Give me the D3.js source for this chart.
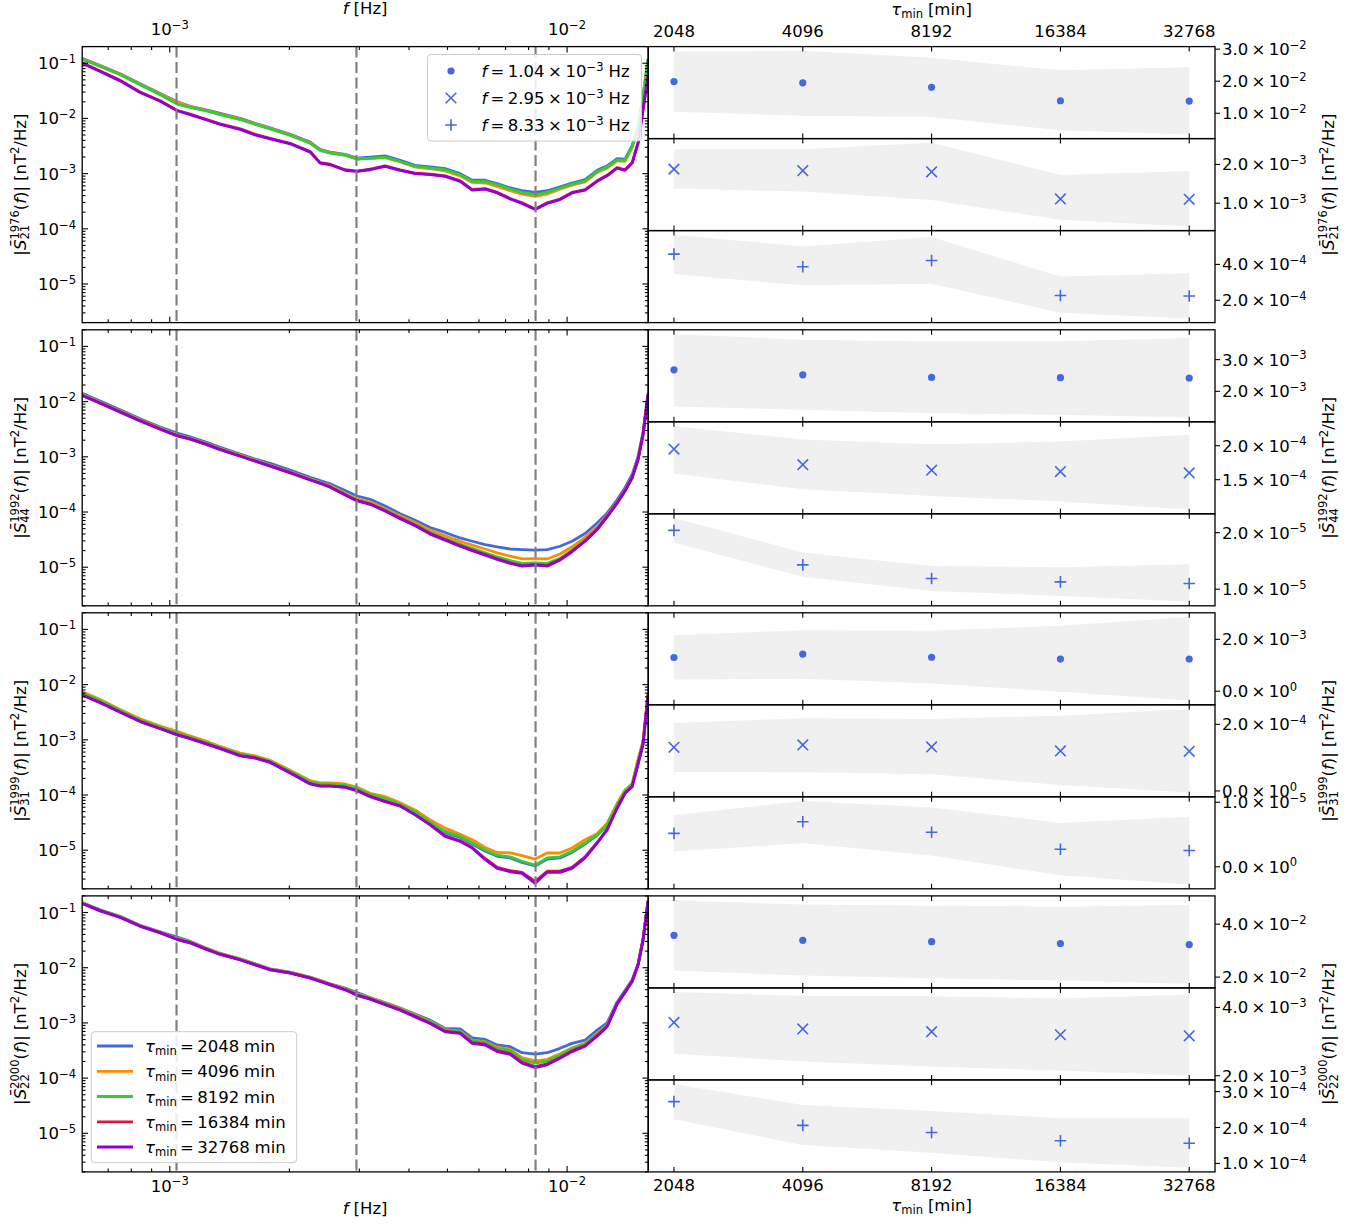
<!DOCTYPE html>
<html><head><meta charset="utf-8">
<script src="https://cdn.jsdelivr.net/npm/d3@7"></script>
<style>
body{margin:0;background:#fff;}
svg text{font-family:"DejaVu Sans",sans-serif;fill:#000;}
</style></head><body>
<svg id="chart" width="1357" height="1224"></svg>
<script>
// ---------------- DATA ----------------
const freqs = [6.02e-4,6.68e-4,7.50e-4,8.42e-4,9.46e-4,1.044e-3,1.125e-3,1.228e-3,1.339e-3,1.504e-3,1.640e-3,1.789e-3,2.009e-3,2.256e-3,2.390e-3,2.533e-3,2.763e-3,2.96e-3,3.194e-3,3.483e-3,3.80e-3,4.145e-3,4.522e-3,4.932e-3,5.38e-3,5.77e-3,6.22e-3,6.67e-3,7.19e-3,7.70e-3,8.31e-3,8.91e-3,9.60e-3,1.029e-2,1.110e-2,1.190e-2,1.261e-2,1.336e-2,1.399e-2,1.458e-2,1.509e-2,1.553e-2,1.599e-2];
const fMarks = [1.04e-3, 2.95e-3, 8.33e-3];
const fMarkLabels = ["1.04", "2.95", "8.33"];
const taus = [2048, 4096, 8192, 16384, 32768];
const tauLabels = ["2048", "4096", "8192", "16384", "32768"];
const seriesColors = ["#4169e1", "#ff8c00", "#32cd32", "#dc143c", "#9400d3"];
const markerColor = "#4169e1";
const compSup = ["1976", "1992", "1999", "2000"];
const compSub = ["21", "44", "31", "22"];
const yMajor = [1e-5, 1e-4, 1e-3, 1e-2, 1e-1];
const xMajor = [1e-3, 1e-2];

// log10 |S| [nT^2/Hz], per tau_min
const lg1976_2048 = [-0.91,-1.04,-1.19,-1.37,-1.55,-1.70,-1.78,-1.84,-1.91,-2.00,-2.09,-2.17,-2.29,-2.43,-2.56,-2.61,-2.65,-2.72,-2.70,-2.68,-2.76,-2.85,-2.88,-2.91,-3.00,-3.12,-3.12,-3.18,-3.26,-3.31,-3.34,-3.31,-3.24,-3.17,-3.11,-2.94,-2.86,-2.73,-2.74,-2.49,-2.15,-1.58,-0.92];
const lg1976_4096 = [-0.92,-1.05,-1.20,-1.38,-1.56,-1.71,-1.79,-1.85,-1.92,-2.01,-2.10,-2.18,-2.30,-2.44,-2.57,-2.62,-2.66,-2.73,-2.73,-2.71,-2.79,-2.88,-2.91,-2.95,-3.04,-3.16,-3.17,-3.23,-3.31,-3.37,-3.41,-3.37,-3.28,-3.21,-3.15,-2.98,-2.90,-2.77,-2.78,-2.53,-2.19,-1.62,-0.95];
const lg1976_8192 = [-0.93,-1.06,-1.21,-1.39,-1.57,-1.74,-1.80,-1.86,-1.93,-2.02,-2.11,-2.19,-2.31,-2.45,-2.58,-2.63,-2.67,-2.74,-2.72,-2.70,-2.78,-2.87,-2.90,-2.93,-3.02,-3.14,-3.14,-3.20,-3.28,-3.34,-3.38,-3.34,-3.26,-3.19,-3.13,-2.96,-2.88,-2.75,-2.76,-2.51,-2.17,-1.60,-0.94];
const lg1976_16384 = [-0.99,-1.14,-1.31,-1.52,-1.68,-1.857,-1.92,-2.01,-2.10,-2.19,-2.29,-2.36,-2.45,-2.60,-2.80,-2.83,-2.93,-2.955,-2.92,-2.86,-2.93,-2.99,-3.01,-3.04,-3.13,-3.29,-3.27,-3.34,-3.45,-3.53,-3.64,-3.53,-3.46,-3.34,-3.29,-3.13,-3.03,-2.89,-2.93,-2.80,-2.44,-1.83,-1.23];
const lg1976_32768 = [-1.00,-1.15,-1.32,-1.53,-1.69,-1.86,-1.93,-2.02,-2.11,-2.20,-2.30,-2.37,-2.46,-2.61,-2.81,-2.84,-2.94,-2.96,-2.93,-2.87,-2.94,-3.00,-3.02,-3.05,-3.14,-3.30,-3.28,-3.35,-3.46,-3.54,-3.65,-3.54,-3.47,-3.35,-3.30,-3.14,-3.04,-2.90,-2.94,-2.81,-2.45,-1.84,-1.24];

const lg1992_2048 = [-1.85,-1.99,-2.15,-2.31,-2.46,-2.57,-2.64,-2.73,-2.83,-2.95,-3.04,-3.12,-3.24,-3.37,-3.43,-3.49,-3.61,-3.71,-3.77,-3.89,-4.03,-4.15,-4.28,-4.37,-4.47,-4.53,-4.59,-4.63,-4.67,-4.68,-4.69,-4.68,-4.62,-4.53,-4.39,-4.20,-4.02,-3.78,-3.56,-3.32,-2.99,-2.55,-1.84];
const lg1992_4096 = [-1.87,-2.01,-2.17,-2.33,-2.48,-2.60,-2.66,-2.75,-2.85,-2.97,-3.06,-3.15,-3.27,-3.40,-3.46,-3.52,-3.66,-3.765,-3.82,-3.94,-4.07,-4.19,-4.33,-4.43,-4.53,-4.60,-4.67,-4.74,-4.80,-4.85,-4.845,-4.85,-4.76,-4.63,-4.46,-4.27,-4.06,-3.82,-3.60,-3.36,-3.03,-2.58,-1.87];
const lg1992_8192 = [-1.88,-2.02,-2.18,-2.34,-2.49,-2.61,-2.67,-2.76,-2.86,-2.98,-3.07,-3.16,-3.28,-3.41,-3.47,-3.54,-3.68,-3.785,-3.85,-3.96,-4.10,-4.22,-4.37,-4.48,-4.58,-4.66,-4.74,-4.81,-4.88,-4.93,-4.92,-4.93,-4.84,-4.69,-4.51,-4.30,-4.08,-3.83,-3.61,-3.37,-3.04,-2.59,-1.87];
const lg1992_16384 = [-1.885,-2.025,-2.185,-2.345,-2.495,-2.614,-2.675,-2.765,-2.865,-2.985,-3.075,-3.165,-3.285,-3.415,-3.475,-3.545,-3.685,-3.79,-3.855,-3.975,-4.11,-4.24,-4.39,-4.50,-4.61,-4.69,-4.77,-4.85,-4.92,-4.97,-4.95,-4.97,-4.86,-4.71,-4.52,-4.31,-4.08,-3.835,-3.615,-3.375,-3.045,-2.595,-1.875];
const lg1992_32768 = [-1.89,-2.03,-2.19,-2.35,-2.50,-2.62,-2.68,-2.77,-2.87,-2.99,-3.08,-3.17,-3.29,-3.42,-3.48,-3.55,-3.69,-3.80,-3.86,-3.98,-4.12,-4.25,-4.40,-4.51,-4.62,-4.70,-4.78,-4.86,-4.93,-4.98,-4.96,-4.98,-4.87,-4.72,-4.53,-4.32,-4.09,-3.84,-3.62,-3.38,-3.05,-2.60,-1.88];

const lg1999_2048 = [-2.155,-2.295,-2.475,-2.645,-2.775,-2.886,-2.955,-3.045,-3.145,-3.265,-3.315,-3.395,-3.575,-3.765,-3.805,-3.805,-3.825,-3.883,-3.995,-4.07,-4.18,-4.31,-4.50,-4.68,-4.77,-4.89,-5.02,-5.11,-5.14,-5.22,-5.286,-5.16,-5.14,-5.04,-4.89,-4.73,-4.55,-4.19,-3.935,-3.815,-3.385,-3.045,-2.175];
const lg1999_4096 = [-2.13,-2.27,-2.45,-2.62,-2.75,-2.845,-2.93,-3.02,-3.12,-3.24,-3.29,-3.37,-3.55,-3.74,-3.78,-3.78,-3.80,-3.86,-3.97,-4.03,-4.14,-4.27,-4.45,-4.60,-4.71,-4.81,-4.95,-5.04,-5.05,-5.10,-5.16,-5.05,-5.05,-4.96,-4.81,-4.70,-4.51,-4.15,-3.91,-3.79,-3.35,-3.02,-2.15];
const lg1999_8192 = [-2.15,-2.29,-2.47,-2.64,-2.77,-2.88,-2.95,-3.04,-3.14,-3.26,-3.31,-3.39,-3.57,-3.76,-3.80,-3.80,-3.82,-3.88,-3.99,-4.06,-4.17,-4.30,-4.49,-4.66,-4.75,-4.87,-5.00,-5.09,-5.12,-5.20,-5.27,-5.14,-5.12,-5.02,-4.87,-4.72,-4.54,-4.18,-3.93,-3.81,-3.38,-3.04,-2.17];
const lg1999_16384 = [-2.185,-2.325,-2.495,-2.665,-2.795,-2.905,-2.975,-3.065,-3.155,-3.285,-3.325,-3.405,-3.595,-3.795,-3.835,-3.835,-3.855,-3.92,-4.025,-4.115,-4.195,-4.355,-4.535,-4.74,-4.83,-4.95,-5.15,-5.31,-5.37,-5.40,-5.565,-5.38,-5.38,-5.31,-5.12,-4.86,-4.62,-4.235,-3.965,-3.845,-3.435,-3.075,-2.195];
const lg1999_32768 = [-2.19,-2.33,-2.50,-2.67,-2.80,-2.91,-2.98,-3.07,-3.16,-3.29,-3.33,-3.41,-3.60,-3.80,-3.84,-3.84,-3.86,-3.92,-4.03,-4.12,-4.20,-4.36,-4.54,-4.75,-4.84,-4.96,-5.17,-5.33,-5.39,-5.42,-5.60,-5.40,-5.40,-5.33,-5.14,-4.87,-4.63,-4.24,-3.97,-3.85,-3.44,-3.08,-2.20];

const lg2000_2048 = [-0.82,-0.95,-1.07,-1.23,-1.35,-1.446,-1.52,-1.64,-1.74,-1.84,-1.93,-2.02,-2.08,-2.17,-2.23,-2.29,-2.37,-2.449,-2.54,-2.63,-2.73,-2.84,-2.95,-3.10,-3.11,-3.27,-3.30,-3.40,-3.43,-3.54,-3.565,-3.54,-3.46,-3.37,-3.31,-3.13,-3.00,-2.62,-2.41,-2.22,-1.93,-1.48,-0.78];
const lg2000_4096 = [-0.83,-0.96,-1.08,-1.24,-1.36,-1.47,-1.535,-1.645,-1.745,-1.845,-1.935,-2.025,-2.085,-2.175,-2.235,-2.295,-2.38,-2.472,-2.545,-2.64,-2.74,-2.855,-2.97,-3.12,-3.15,-3.31,-3.34,-3.44,-3.48,-3.63,-3.686,-3.66,-3.56,-3.45,-3.37,-3.19,-3.04,-2.645,-2.435,-2.235,-1.935,-1.485,-0.785];
const lg2000_8192 = [-0.83,-0.96,-1.08,-1.24,-1.36,-1.476,-1.54,-1.65,-1.75,-1.85,-1.94,-2.03,-2.09,-2.18,-2.24,-2.30,-2.39,-2.483,-2.555,-2.65,-2.75,-2.865,-2.98,-3.13,-3.16,-3.32,-3.35,-3.46,-3.50,-3.66,-3.73,-3.69,-3.58,-3.47,-3.38,-3.20,-3.05,-2.65,-2.44,-2.24,-1.94,-1.49,-0.79];
const lg2000_16384 = [-0.835,-0.965,-1.085,-1.245,-1.365,-1.485,-1.545,-1.655,-1.755,-1.855,-1.945,-2.035,-2.095,-2.185,-2.245,-2.305,-2.395,-2.495,-2.565,-2.665,-2.76,-2.88,-3.00,-3.15,-3.18,-3.355,-3.385,-3.50,-3.55,-3.71,-3.79,-3.74,-3.625,-3.505,-3.41,-3.23,-3.06,-2.655,-2.445,-2.245,-1.945,-1.495,-0.795];
const lg2000_32768 = [-0.84,-0.97,-1.09,-1.25,-1.37,-1.49,-1.55,-1.66,-1.76,-1.86,-1.95,-2.04,-2.10,-2.19,-2.25,-2.31,-2.40,-2.50,-2.57,-2.67,-2.77,-2.89,-3.01,-3.16,-3.19,-3.37,-3.40,-3.52,-3.57,-3.73,-3.81,-3.76,-3.64,-3.52,-3.42,-3.24,-3.07,-2.66,-2.45,-2.25,-1.95,-1.50,-0.80];

// right panels: value at the marked frequency vs tau_min (mean, lower, upper band)
const m1976_f1 = [0.0199,0.0195,0.0181,0.0139,0.0138];
const lo1976_f1 = [0.0105,0.0092,0.0088,0.0047,0.0034];
const hi1976_f1 = [0.0293,0.0295,0.0273,0.0234,0.0244];
const m1976_f2 = [1.88e-3,1.84e-3,1.81e-3,1.11e-3,1.10e-3];
const lo1976_f2 = [1.38e-3,1.30e-3,1.08e-3,0.57e-3,0.40e-3];
const hi1976_f2 = [2.39e-3,2.39e-3,2.56e-3,1.73e-3,1.83e-3];
const m1976_f3 = [4.57e-4,3.87e-4,4.22e-4,2.27e-4,2.24e-4];
const lo1976_f3 = [3.47e-4,2.82e-4,2.92e-4,1.30e-4,0.99e-4];
const hi1976_f3 = [5.65e-4,5.00e-4,5.52e-4,3.32e-4,3.50e-4];

const m1992_f1 = [2.68e-3,2.52e-3,2.44e-3,2.43e-3,2.42e-3];
const lo1992_f1 = [1.52e-3,1.42e-3,1.31e-3,1.26e-3,1.17e-3];
const hi1992_f1 = [3.81e-3,3.63e-3,3.57e-3,3.58e-3,3.68e-3];
const m1992_f2 = [1.95e-4,1.72e-4,1.64e-4,1.62e-4,1.60e-4];
const lo1992_f2 = [1.59e-4,1.36e-4,1.26e-4,1.18e-4,1.06e-4];
const hi1992_f2 = [2.29e-4,2.09e-4,2.02e-4,2.06e-4,2.16e-4];
const m1992_f3 = [2.04e-5,1.43e-5,1.19e-5,1.13e-5,1.10e-5];
const lo1992_f3 = [1.82e-5,1.22e-5,0.97e-5,0.88e-5,0.78e-5];
const hi1992_f3 = [2.26e-5,1.65e-5,1.41e-5,1.39e-5,1.44e-5];

const m1999_f1 = [1.30e-3,1.43e-3,1.31e-3,1.24e-3,1.24e-3];
const lo1999_f1 = [4.55e-4,4.8e-4,3.0e-4,-2e-5,-3.6e-4];
const hi1999_f1 = [2.16e-3,2.35e-3,2.33e-3,2.52e-3,2.86e-3];
const m1999_f2 = [1.31e-4,1.38e-4,1.32e-4,1.20e-4,1.19e-4];
const lo1999_f2 = [5.7e-5,5.6e-5,5.0e-5,1.8e-5,-5e-6];
const hi1999_f2 = [2.04e-4,2.18e-4,2.16e-4,2.26e-4,2.46e-4];
const m1999_f3 = [5.18e-6,6.97e-6,5.34e-6,2.72e-6,2.51e-6];
const lo1999_f3 = [2.36e-6,3.64e-6,1.74e-6,-1.33e-6,-2.77e-6];
const hi1999_f3 = [8.0e-6,1.02e-5,9.18e-6,6.8e-6,7.74e-6];

const m2000_f1 = [0.0358,0.0339,0.0334,0.0327,0.0323];
const lo2000_f1 = [0.0225,0.0206,0.0196,0.0187,0.0175];
const hi2000_f1 = [0.0491,0.0474,0.0470,0.0466,0.0472];
const m2000_f2 = [3.56e-3,3.37e-3,3.29e-3,3.20e-3,3.17e-3];
const lo2000_f2 = [2.64e-3,2.42e-3,2.27e-3,2.15e-3,2.00e-3];
const hi2000_f2 = [4.45e-3,4.34e-3,4.33e-3,4.26e-3,4.38e-3];
const m2000_f3 = [2.72e-4,2.06e-4,1.86e-4,1.63e-4,1.56e-4];
const lo2000_f3 = [2.23e-4,1.51e-4,1.30e-4,1.03e-4,0.88e-4];
const hi2000_f3 = [3.21e-4,2.63e-4,2.46e-4,2.26e-4,2.26e-4];

const yt1976 = [[0.01,0.02,0.03],[1e-3,2e-3],[2e-4,4e-4]];
const yt1992 = [[2e-3,3e-3],[1.5e-4,2e-4],[1e-5,2e-5]];
const yt1999 = [[0,2e-3],[0,2e-4],[0,1e-5]];
const yt2000 = [[2e-2,4e-2],[2e-3,4e-3],[1e-4,2e-4,3e-4]];

// ---------------- BUILD TABLES ----------------
const curves = [
  [lg1976_2048, lg1976_4096, lg1976_8192, lg1976_16384, lg1976_32768],
  [lg1992_2048, lg1992_4096, lg1992_8192, lg1992_16384, lg1992_32768],
  [lg1999_2048, lg1999_4096, lg1999_8192, lg1999_16384, lg1999_32768],
  [lg2000_2048, lg2000_4096, lg2000_8192, lg2000_16384, lg2000_32768]
];
const rightData = [
  [[m1976_f1,lo1976_f1,hi1976_f1],[m1976_f2,lo1976_f2,hi1976_f2],[m1976_f3,lo1976_f3,hi1976_f3]],
  [[m1992_f1,lo1992_f1,hi1992_f1],[m1992_f2,lo1992_f2,hi1992_f2],[m1992_f3,lo1992_f3,hi1992_f3]],
  [[m1999_f1,lo1999_f1,hi1999_f1],[m1999_f2,lo1999_f2,hi1999_f2],[m1999_f3,lo1999_f3,hi1999_f3]],
  [[m2000_f1,lo2000_f1,hi2000_f1],[m2000_f2,lo2000_f2,hi2000_f2],[m2000_f3,lo2000_f3,hi2000_f3]]
];
const yTicks = [yt1976, yt1992, yt1999, yt2000];
const markerKinds = ["dot", "x", "plus"];

// ---------------- LAYOUT ----------------
const svg = d3.select("#chart");
const FS = 16.5;
const LX0 = 82.2, LX1 = 648.2, RX1 = 1215;
const rowTop = [46.6, 329.8, 612.8, 895.9];
const H = 276;
const MAJ = 5.8, MIN = 3.3;

const xL = d3.scaleLog().domain([6.02e-4, 1.6e-2]).range([LX0, LX1]);
const xR = d3.scaleLog().base(2).domain([2048 * Math.pow(2, -0.2), 32768 * Math.pow(2, 0.2)]).range([LX1, RX1]);

function layout(g, pieces, fs) {
  let x = 0;
  for (const p of pieces) {
    if (p.sup !== undefined) {
      const a = g.append("text").attr("x", x).attr("y", -0.42 * fs).style("font-size", (0.7 * fs) + "px").text(p.sup);
      const b = g.append("text").attr("x", x).attr("y", 0.24 * fs).style("font-size", (0.7 * fs) + "px").text(p.sub);
      x += Math.max(a.node().getComputedTextLength(), b.node().getComputedTextLength());
    } else {
      const s = (p.sc || 1) * fs;
      const t = g.append("text").attr("x", x).attr("y", -(p.sh || 0) * fs).style("font-size", s + "px").text(p.t);
      if (p.it) t.style("font-style", "italic");
      x += t.node().getComputedTextLength() + (p.sp || 0) * fs;
    }
  }
  return x;
}
function rich(parent, pieces, fs, x, y, anchor, rot) {
  const g = parent.append("g");
  const w = layout(g, pieces, fs);
  const dx = anchor === "end" ? -w : anchor === "middle" ? -w / 2 : 0;
  if (rot) g.attr("transform", `translate(${x},${y}) rotate(-90) translate(${dx},0)`);
  else g.attr("transform", `translate(${x + dx},${y})`);
  return g;
}
const pow10 = e => [{t: "10"}, {t: "\u2212" + e, sc: 0.7, sh: 0.38}];
function sciPieces(v) {
  let e = 0, m = 0;
  if (v !== 0) { e = Math.floor(Math.log10(Math.abs(v)) + 1e-9); m = v / Math.pow(10, e); }
  const es = e < 0 ? "\u2212" + (-e) : String(e);
  return [{t: m.toFixed(1), sp: 0.2}, {t: "\u00d7", sp: 0.2}, {t: "10"}, {t: es, sc: 0.7, sh: 0.38}];
}
function yLabelPieces(r) {
  return [{t: "|"}, {t: "S\u0304", it: true}, {sup: compSup[r], sub: compSub[r]}, {t: "("}, {t: "f", it: true},
          {t: ")"}, {t: "|", sp: 0.3}, {t: "[nT"}, {t: "2", sc: 0.7, sh: 0.38}, {t: "/Hz]"}];
}
const fLabel = [{t: "f", it: true, sp: 0.3}, {t: "[Hz]"}];
const tauLabel = [{t: "\u03c4", it: true}, {t: "min", sc: 0.7, sh: -0.2, sp: 0.3}, {t: "[min]"}];

function drawMarker(g, kind, cx, cy) {
  if (kind === "dot") g.append("circle").attr("cx", cx).attr("cy", cy).attr("r", 3.6).attr("fill", markerColor);
  else if (kind === "x") {
    const h = 5.3;
    g.append("path").attr("d", `M${cx - h},${cy - h}L${cx + h},${cy + h}M${cx - h},${cy + h}L${cx + h},${cy - h}`)
      .attr("stroke", markerColor).attr("stroke-width", 1.6).attr("fill", "none");
  } else {
    const h = 5.8;
    g.append("path").attr("d", `M${cx - h},${cy}L${cx + h},${cy}M${cx},${cy - h}L${cx},${cy + h}`)
      .attr("stroke", markerColor).attr("stroke-width", 1.6).attr("fill", "none");
  }
}
const tick = (g, x1, y1, x2, y2) => g.append("line").attr("x1", x1).attr("y1", y1).attr("x2", x2).attr("y2", y2)
  .attr("stroke", "#000").attr("stroke-width", 1.1);

const defs = svg.append("defs");

// ---------------- LEFT PANELS ----------------
for (let r = 0; r < 4; r++) {
  const top = rowTop[r], bot = top + H;
  const yL = d3.scaleLog().domain([2e-6, 0.2]).range([bot, top]);
  const g = svg.append("g");
  defs.append("clipPath").attr("id", "clipL" + r).append("rect")
    .attr("x", LX0).attr("y", top).attr("width", LX1 - LX0).attr("height", H);
  const pg = g.append("g").attr("clip-path", `url(#clipL${r})`);
  const line = d3.line().x((d, i) => xL(freqs[i])).y(d => yL(Math.pow(10, d)));
  curves[r].forEach((s, k) => {
    pg.append("path").attr("d", line(s)).attr("fill", "none").attr("stroke", seriesColors[k])
      .attr("stroke-width", 2.8).attr("stroke-linejoin", "round");
  });
  fMarks.forEach(f => {
    pg.append("line").attr("x1", xL(f)).attr("x2", xL(f)).attr("y1", top).attr("y2", bot)
      .attr("stroke", "#808080").attr("stroke-width", 2.2).attr("stroke-dasharray", "11,4.5");
  });
  // ticks
  for (let e = -6; e <= -1; e++) for (let m = 1; m <= 9; m++) {
    const v = m * Math.pow(10, e);
    if (v < 2e-6 || v > 0.2) continue;
    const len = m === 1 ? MAJ : MIN;
    tick(g, LX0, yL(v), LX0 + len, yL(v));
    tick(g, LX1, yL(v), LX1 - len, yL(v));
  }
  for (let e = -4; e <= -2; e++) for (let m = 1; m <= 9; m++) {
    const v = m * Math.pow(10, e);
    if (v < 6.02e-4 || v > 1.6e-2) continue;
    const len = m === 1 ? MAJ : MIN;
    tick(g, xL(v), top, xL(v), top + len);
    tick(g, xL(v), bot, xL(v), bot - len);
  }
  yMajor.forEach(v => rich(g, pow10(-Math.round(Math.log10(v))), FS, 76, yL(v) + 6, "end"));
  if (r === 0) {
    xMajor.forEach(v => rich(g, pow10(-Math.round(Math.log10(v))), FS, xL(v), 35, "middle"));
    rich(g, fLabel, FS, (LX0 + LX1) / 2, 14, "middle");
  }
  if (r === 3) {
    xMajor.forEach(v => rich(g, pow10(-Math.round(Math.log10(v))), FS, xL(v), 1191.5, "middle"));
    rich(g, fLabel, FS, (LX0 + LX1) / 2, 1214, "middle");
  }
  g.append("rect").attr("x", LX0).attr("y", top).attr("width", LX1 - LX0).attr("height", H)
    .attr("fill", "none").attr("stroke", "#000").attr("stroke-width", 1.3);
  rich(g, yLabelPieces(r), FS, 25.5, top + H / 2, "middle", true);
  rich(g, yLabelPieces(r), FS, 1334, top + H / 2, "middle", true);
}

// ---------------- RIGHT PANELS ----------------
for (let r = 0; r < 4; r++) {
  for (let s = 0; s < 3; s++) {
    const top = rowTop[r] + s * H / 3, bot = top + H / 3;
    const [mean, lo, hi] = rightData[r][s];
    const mn = d3.min(lo), mx = d3.max(hi), pad = 0.05 * (mx - mn);
    const y = d3.scaleLinear().domain([mn - pad, mx + pad]).range([bot, top]);
    const g = svg.append("g");
    const area = d3.area().x((d, i) => xR(taus[i])).y0((d, i) => y(lo[i])).y1((d, i) => y(hi[i]));
    g.append("path").attr("d", area(mean)).attr("fill", "#f0f0f0");
    mean.forEach((v, i) => drawMarker(g, markerKinds[s], xR(taus[i]), y(v)));
    taus.forEach(t => {
      tick(g, xR(t), top, xR(t), top + 5);
      tick(g, xR(t), bot, xR(t), bot - 5);
    });
    yTicks[r][s].forEach(v => {
      tick(g, RX1, y(v), RX1 + 5, y(v));
      rich(g, sciPieces(v), FS, 1222, y(v) + 6, "start");
    });
    g.append("rect").attr("x", LX1).attr("y", top).attr("width", RX1 - LX1).attr("height", H / 3)
      .attr("fill", "none").attr("stroke", "#000").attr("stroke-width", 1.3);
    if (r === 0 && s === 0) {
      taus.forEach((t, i) => rich(g, [{t: tauLabels[i]}], FS, xR(t), 37, "middle"));
      rich(g, tauLabel, FS, (LX1 + RX1) / 2, 15, "middle");
    }
    if (r === 3 && s === 2) {
      taus.forEach((t, i) => rich(g, [{t: tauLabels[i]}], FS, xR(t), 1191, "middle"));
      rich(g, tauLabel, FS, (LX1 + RX1) / 2, 1211, "middle");
    }
  }
}

// ---------------- LEGENDS ----------------
{
  const g = svg.append("g");
  g.append("rect").attr("x", 427.5).attr("y", 54.5).attr("width", 214).attr("height", 86.5).attr("rx", 3.5)
    .attr("fill", "#fff").attr("fill-opacity", 0.85).attr("stroke", "#cccccc").attr("stroke-width", 1);
  const ys = [71, 98, 125];
  fMarkLabels.forEach((lab, i) => {
    drawMarker(g, markerKinds[i], 451, ys[i]);
    rich(g, [{t: "f", it: true, sp: 0.2}, {t: "=", sp: 0.2}, {t: lab, sp: 0.22}, {t: "\u00d7", sp: 0.22},
             {t: "10"}, {t: "\u22123", sc: 0.7, sh: 0.38, sp: 0.3}, {t: "Hz"}], FS, 481.5, ys[i] + 6, "start");
  });
}
{
  const g = svg.append("g");
  g.append("rect").attr("x", 91.3).attr("y", 1031.7).attr("width", 205.4).attr("height", 131).attr("rx", 3.5)
    .attr("fill", "#fff").attr("fill-opacity", 0.85).attr("stroke", "#cccccc").attr("stroke-width", 1);
  const ys = [1046, 1071.3, 1096.5, 1121.8, 1147];
  tauLabels.forEach((lab, i) => {
    g.append("line").attr("x1", 97).attr("x2", 133).attr("y1", ys[i]).attr("y2", ys[i])
      .attr("stroke", seriesColors[i]).attr("stroke-width", 2.8);
    rich(g, [{t: "\u03c4", it: true}, {t: "min", sc: 0.7, sh: -0.2, sp: 0.2}, {t: "=", sp: 0.2},
             {t: lab, sp: 0.3}, {t: "min"}], FS, 145, ys[i] + 6, "start");
  });
}
</script>
</body></html>
